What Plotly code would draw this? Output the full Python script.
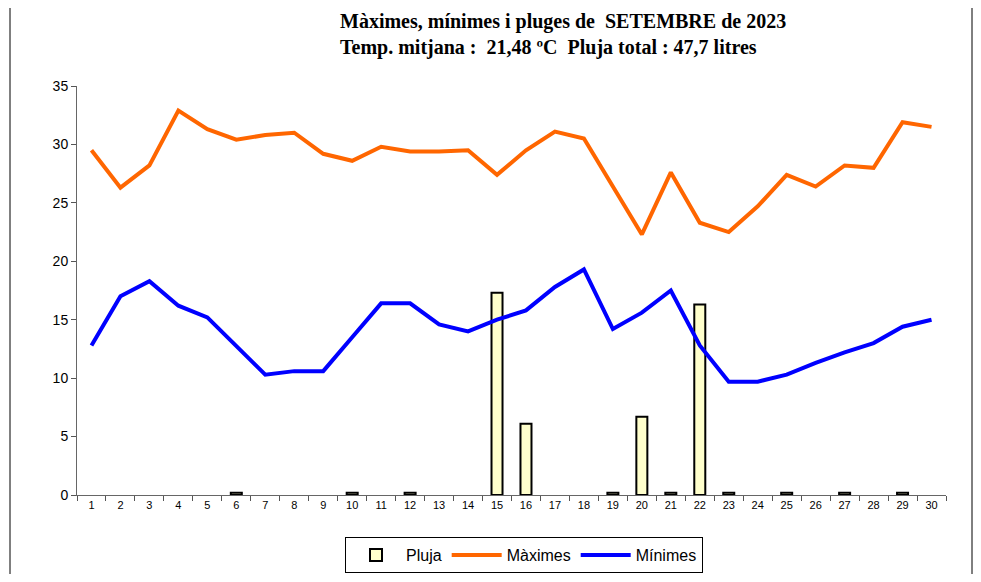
import plotly.graph_objects as go

days = [str(d) for d in range(1, 31)]
maximes = [29.5, 26.3, 28.2, 32.9, 31.3, 30.4, 30.8, 31.0, 29.2, 28.6,
           29.8, 29.4, 29.4, 29.5, 27.4, 29.5, 31.1, 30.5, 26.4, 22.3,
           27.6, 23.3, 22.5, 24.7, 27.4, 26.4, 28.2, 28.0, 31.9, 31.5]
minimes = [12.8, 17.0, 18.3, 16.2, 15.2, 12.8, 10.3, 10.6, 10.6, 13.5,
           16.4, 16.4, 14.6, 14.0, 15.0, 15.8, 17.8, 19.3, 14.2, 15.6,
           17.5, 12.8, 9.7, 9.7, 10.3, 11.3, 12.2, 13.0, 14.4, 15.0]
pluja = [None, None, None, None, None, 0.2, None, None, None, 0.2,
         None, 0.2, None, None, 17.3, 6.1, None, None, 0.2, 6.7,
         0.2, 16.3, 0.2, None, 0.2, None, 0.2, None, 0.2, None]
yticks = [0, 5, 10, 15, 20, 25, 30, 35]
title1 = "Màximes, mínimes i pluges de  SETEMBRE de 2023"
title2 = "Temp. mitjana :  21,48 ºC  Pluja total : 47,7 litres"

OFF = 8  # page body margin
W, H = 965, 566
L, T = 77 - OFF, 86 - OFF
R = W - (946 - OFF)
B = H - (495 - OFF)
PW, PH = W - L - R, H - T - B

def px(x):
    return (x - OFF - L) / PW

def py(y):
    return (H - B - (y - OFF)) / PH

fig = go.Figure()
fig.add_trace(go.Bar(x=days, y=pluja, name="Pluja", width=0.38,
                     marker=dict(color="#FFFFCC", line=dict(color="black", width=2))))
fig.add_trace(go.Scatter(x=days, y=maximes, name="Màximes", mode="lines",
                         line=dict(color="#FF6600", width=4)))
fig.add_trace(go.Scatter(x=days, y=minimes, name="Mínimes", mode="lines",
                         line=dict(color="#0000FF", width=4)))

fig.update_layout(
    width=W, height=H,
    margin=dict(l=L, r=R, t=T, b=B, autoexpand=False),
    paper_bgcolor="white", plot_bgcolor="white",
    showlegend=True,
    legend=dict(orientation="h", x=px(345), xanchor="left", y=py(537), yanchor="top",
                bordercolor="black", borderwidth=1,
                font=dict(family="Liberation Sans", size=16, color="black"),
                itemwidth=50),
    font=dict(family="Liberation Sans", color="black"),
)
for txt, yc in [(title1, 22), (title2, 48)]:
    fig.add_annotation(text="<b>" + txt + "</b>", xref="paper", yref="paper",
                       x=px(338), y=py(yc), xanchor="left", yanchor="middle",
                       showarrow=False,
                       font=dict(family="Liberation Serif", size=20, color="black"))

fig.update_xaxes(type="category", tickson="boundaries", ticks="outside", ticklen=5,
                 tickcolor="#555", showline=True, linecolor="#666", linewidth=1,
                 showgrid=False, automargin=False,
                 tickfont=dict(size=11, family="Liberation Sans"))
fig.update_yaxes(range=[0, 35], tickvals=yticks, ticks="outside", ticklen=5,
                 tickcolor="#555", showline=True, linecolor="#666", linewidth=1,
                 showgrid=False, zeroline=False, automargin=False,
                 tickfont=dict(size=14, family="Liberation Sans"))

# chart frame side lines
for xx in (10, 972):
    fig.add_shape(type="line", xref="paper", yref="paper",
                  x0=px(xx), x1=px(xx), y0=0 - B / PH, y1=1 + T / PH,
                  line=dict(color="black", width=1))

fig.write_html("out.html")
